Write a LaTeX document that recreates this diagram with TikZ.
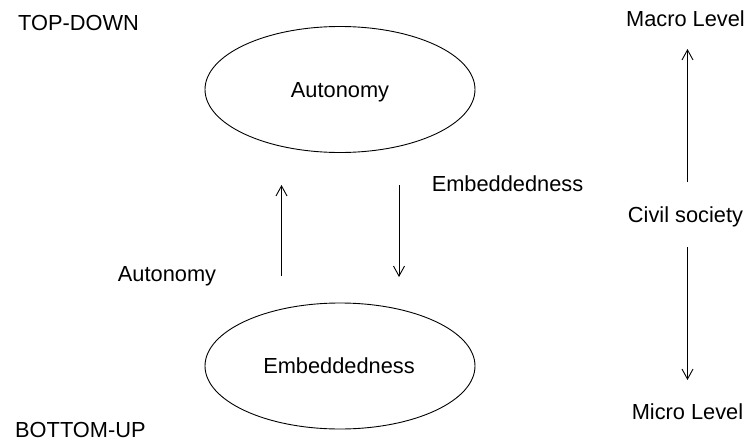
\documentclass[tikz,border=0pt]{standalone}
\usepackage{fontspec}
\setmainfont{Liberation Sans}
\usetikzlibrary{arrows.meta,shapes.geometric}
\begin{document}
\begin{tikzpicture}[x=1pt,y=-1pt,
  lbl/.style={font=\fontsize{21.8}{26}\selectfont, inner sep=0pt, anchor=base},
  oval/.style={draw, line width=0.9pt, ellipse, minimum width=270pt, minimum height=126pt, inner sep=0pt},
  flow/.style={draw, line width=0.9pt, -{Straight Barb[length=10pt,width=11pt,line width=0.9pt]}}]
  \useasboundingbox (0,0) rectangle (745,442);

  % the two levels of governance
  \node[oval] (top) at (340,89.5) {};
  \node[oval] (bottom) at (340,366) {};
  \node[lbl] (topText) at (340,97) {Autonomy};
  \node[lbl] (bottomText) at (339,373) {Embeddedness};

  % side headings
  \node[lbl, anchor=base west] (topdown) at (18,30) {TOP-DOWN};
  \node[lbl, anchor=base west] (bottomup) at (15,437.5) {BOTTOM-UP};

  % labels of the vertical flows
  \node[lbl] (autLbl) at (167,281) {Autonomy};
  \node[lbl] (embLbl) at (507.5,191) {Embeddedness};

  % scale on the right
  \node[lbl] (macro) at (685.5,26.5) {Macro Level};
  \node[lbl] (civil) at (685.5,222) {Civil society};
  \node[lbl] (micro) at (687.5,419) {Micro Level};

  % arrow ends
  \coordinate (upFrom) at (281.5,276);
  \coordinate (upTo) at (281.5,185);
  \coordinate (downFrom) at (399,185);
  \coordinate (downTo) at (399,277);
  \coordinate (macroFrom) at (687.5,182);
  \coordinate (macroTo) at (687.5,49);
  \coordinate (microFrom) at (687.5,247);
  \coordinate (microTo) at (687.5,380);

  \draw[flow] (upFrom) -- (upTo);
  \draw[flow] (downFrom) -- (downTo);
  \draw[flow] (macroFrom) -- (macroTo);
  \draw[flow] (microFrom) -- (microTo);
\end{tikzpicture}
\end{document}
